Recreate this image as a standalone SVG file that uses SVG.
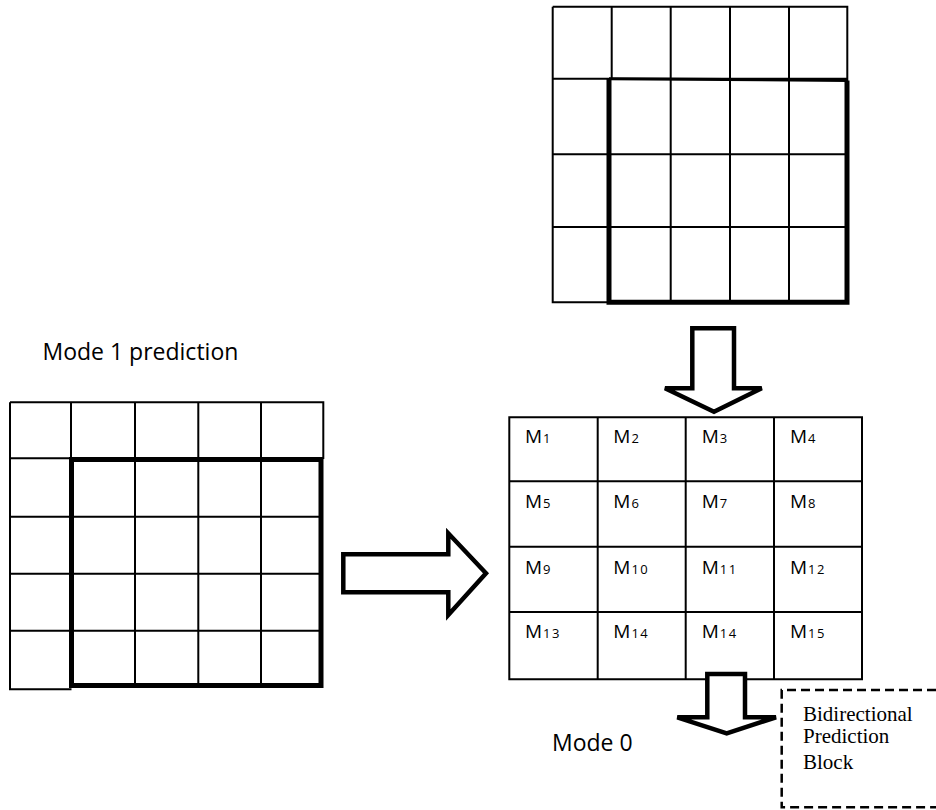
<svg xmlns="http://www.w3.org/2000/svg" width="936" height="810" viewBox="0 0 936 810">
<style>
.thin{fill:none;stroke:#000;stroke-width:2}
.bold{fill:none;stroke:#000;stroke-width:5;stroke-linejoin:miter}
.arrow{fill:#fff;stroke:#000;stroke-width:4.5;stroke-linejoin:miter}
.lbl{font-family:"Open Sans","Noto Sans",sans-serif;font-size:19px;fill:#000}
.sub{font-size:13px;letter-spacing:1.5px}
.cap{font-family:"Open Sans","Noto Sans",sans-serif;font-size:23px;fill:#000}
.note{font-family:"Liberation Serif","Times New Roman",serif;font-size:21px;fill:#000}
</style>
<rect width="936" height="810" fill="#fff"/>

<g id="top-grid">
  <path class="thin" d="M552.7,6.7H847.3V302.3M552.7,6.7V302.3H609M611.7,6.7V78.7M670.7,6.7V302.3M730,6.7V302.3M789,6.7V302.3M552.7,78.7H847.3M552.7,154.3H847.3M552.7,227H847.3"/>
  <path class="bold" d="M609,79V302.3H847V80.5" />
  <path d="M609,78.7L848,80.5" fill="none" stroke="#000" stroke-width="3"/>
</g>

<g id="left-grid">
  <path class="thin" d="M10,402.3H323.3V459M10,402.3V689.3H71.5M71,402.3V459M135,402.3V688M198.3,402.3V688M261,402.3V688M10,458.3H323.3M10,516.7H321M10,573.7H321M10,630.7H321"/>
  <path class="bold" d="M71.5,685.5V459.5H321V685.5Z"/>
</g>

<g id="result-grid">
  <path class="thin" d="M509.3,417.3H862V679.3H509.3ZM597.7,417.3V679.3M685.7,417.3V679.3M774,417.3V679.3M509.3,481.3H862M509.3,546.7H862M509.3,612H862"/>
  <g class="lbl">
    <text x="525" y="443.3">M<tspan class="sub" dx="1">1</tspan></text>
    <text x="613.3" y="443.3">M<tspan class="sub" dx="1">2</tspan></text>
    <text x="701.7" y="443.3">M<tspan class="sub" dx="1">3</tspan></text>
    <text x="790" y="443.3">M<tspan class="sub" dx="1">4</tspan></text>
    <text x="525" y="508.3">M<tspan class="sub" dx="1">5</tspan></text>
    <text x="613.3" y="508.3">M<tspan class="sub" dx="1">6</tspan></text>
    <text x="701.7" y="508.3">M<tspan class="sub" dx="1">7</tspan></text>
    <text x="790" y="508.3">M<tspan class="sub" dx="1">8</tspan></text>
    <text x="525" y="574.3">M<tspan class="sub" dx="1">9</tspan></text>
    <text x="613.3" y="574.3">M<tspan class="sub" dx="1">10</tspan></text>
    <text x="701.7" y="574.3">M<tspan class="sub" dx="1">11</tspan></text>
    <text x="790" y="574.3">M<tspan class="sub" dx="1">12</tspan></text>
    <text x="525" y="638.3">M<tspan class="sub" dx="1">13</tspan></text>
    <text x="613.3" y="638.3">M<tspan class="sub" dx="1">14</tspan></text>
    <text x="701.7" y="638.3">M<tspan class="sub" dx="1">14</tspan></text>
    <text x="790" y="638.3">M<tspan class="sub" dx="1">15</tspan></text>
  </g>
</g>

<g id="bidirectional-block">
  <path d="M936,690H781.7V807.3H936" fill="none" stroke="#000" stroke-width="2.5" stroke-dasharray="9,5"/>
  <text class="note" x="803" y="720.7">Bidirectional</text>
  <text class="note" x="803" y="743.3">Prediction</text>
  <text class="note" x="803" y="769">Block</text>
</g>

<g id="labels">
  <text class="cap" x="42.5" y="360">Mode 1 prediction</text>
  <text class="cap" x="552" y="750.5">Mode 0</text>
</g>

<g id="connectors">
  <polygon class="arrow" points="692.3,328.3 734,328.3 734,388.3 761.7,388.3 714,411.7 665,388.3 692.3,388.3"/>
  <polygon class="arrow" points="343.3,554.3 448.3,554.3 448.3,533.3 486,573.3 448.3,615 448.3,592.3 343.3,592.3"/>
  <polygon class="arrow" points="707.3,674 745,674 745,717.3 776,717.3 726.7,733.3 677.3,717.3 707.3,717.3" stroke-width="5"/>
</g>
</svg>
